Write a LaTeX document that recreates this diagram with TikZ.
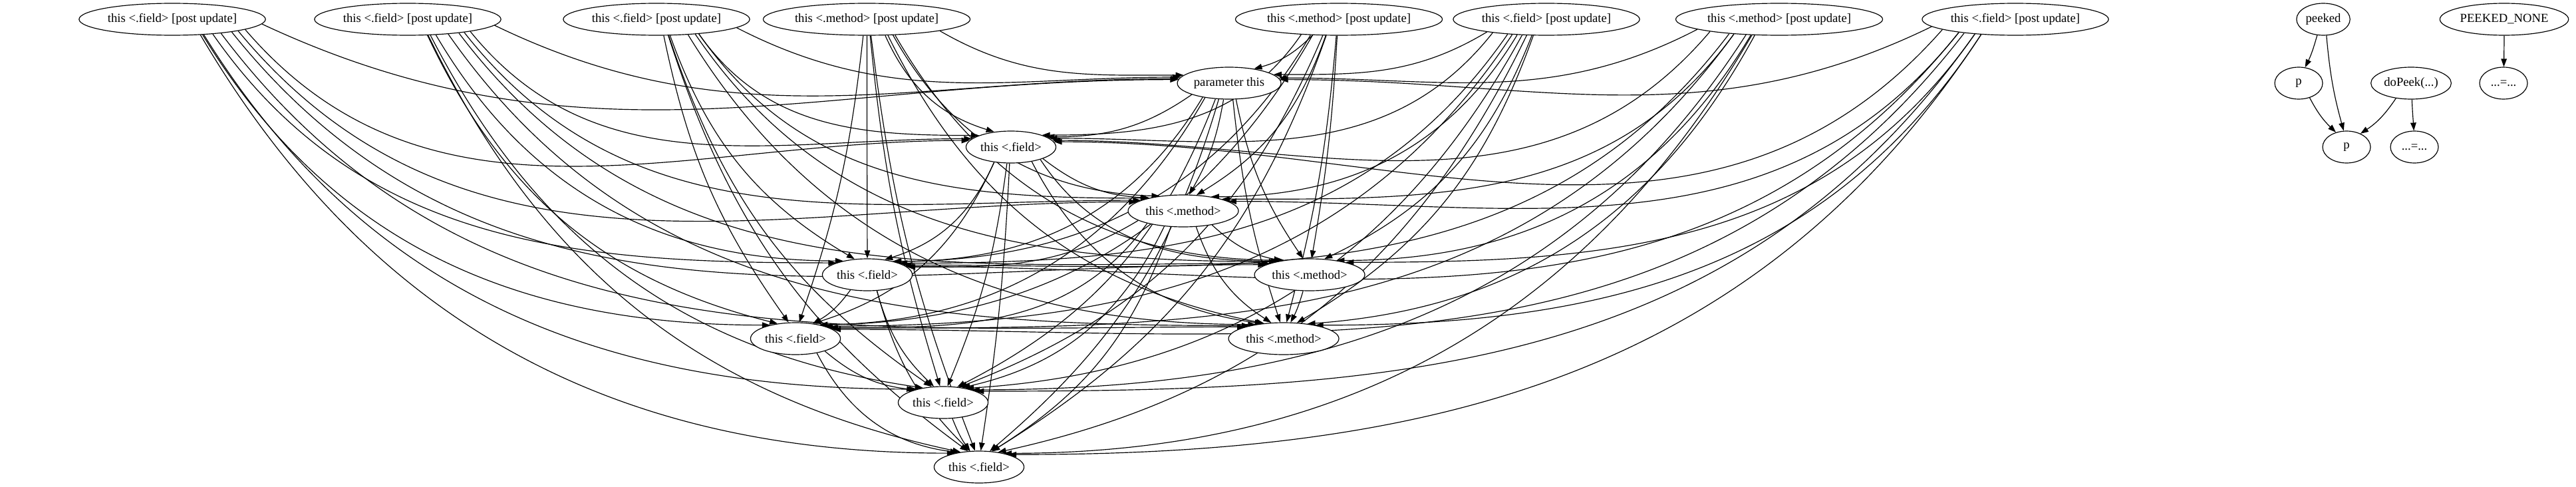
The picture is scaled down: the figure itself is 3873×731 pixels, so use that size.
\documentclass[tikz,border=0pt]{standalone}
\usepackage{fontspec}
\setmainfont{Liberation Serif}
\usetikzlibrary{arrows.meta,shapes.geometric,calc,backgrounds}

\begin{document}
\begin{tikzpicture}[x=0.1875pt,y=-0.1875pt,font=\fontsize{3.5}{4}\selectfont,
  nd/.style={draw,fill=white,ellipse,inner sep=0.375pt,minimum width=13.5pt,minimum height=9pt,line width=0.22pt},
  arr/.style={-{Triangle[length=2.25pt,width=1.6pt]},line width=0.22pt}]
  \useasboundingbox (0,0) rectangle (3873,731);
  % post update nodes, all on the top rank
  \node[nd] (t1) at (259,29) {this <.field> [post update]};
  \node[nd] (t2) at (613,29) {this <.field> [post update]};
  \node[nd] (t3) at (987,29) {this <.field> [post update]};
  \node[nd] (t4) at (1303,29) {this <.method> [post update]};
  \node[nd] (t5) at (2013,29) {this <.method> [post update]};
  \node[nd] (t6) at (2325,29) {this <.field> [post update]};
  \node[nd] (t7) at (2675,29) {this <.method> [post update]};
  \node[nd] (t8) at (3030,29) {this <.field> [post update]};
  % the uses of this, one rank each
  \node[nd] (par) at (1848,125) {parameter this};
  \node[nd] (f1) at (1520,221) {this <.field>};
  \node[nd] (m1) at (1779,317) {this <.method>};
  \node[nd] (f2) at (1304,413) {this <.field>};
  \node[nd] (m2) at (1969,413) {this <.method>};
  \node[nd] (f3) at (1196,509) {this <.field>};
  \node[nd] (m3) at (1930,509) {this <.method>};
  \node[nd] (f4) at (1418,605) {this <.field>};
  \node[nd] (f5) at (1472,702) {this <.field>};
  % the small peek cluster on the right
  \node[nd] (peeked) at (3493,29) {peeked};
  \node[nd] (pnone) at (3765,29) {PEEKED\_NONE};
  \node[nd] (p1) at (3456,125) {p};
  \node[nd] (dopeek) at (3625,125) {doPeek(...)};
  \node[nd] (eq1) at (3764,125) {...=...};
  \node[nd] (p2) at (3528,221) {p};
  \node[nd] (eq2) at (3630,221) {...=...};
  % edges go behind the nodes; they leave downwards and bend in
  \begin{pgfonlayer}{background}
  \foreach \s/\ts in {
      t1/{par,f1,m1,f2,m2,f3,m3,f4,f5}, t2/{par,f1,m1,f2,m2,f3,m3,f4,f5},
      t3/{par,f1,m1,f2,m2,f3,m3,f4,f5}, t4/{par,f1,m1,f2,m2,f3,m3,f4,f5},
      t5/{par,f1,m1,f2,m2,f3,m3,f4,f5}, t6/{par,f1,m1,f2,m2,f3,m3,f4,f5},
      t7/{par,f1,m1,f2,m2,f3,m3,f4,f5}, t8/{par,f1,m1,f2,m2,f3,m3,f4,f5},
      par/{f1,m1,f2,m2,f3,m3,f4,f5}, f1/{m1,f2,m2,f3,m3,f4,f5},
      m1/{f2,m2,f3,m3,f4,f5}, f2/{f3,f4,f5}, m2/{m3}, f3/{f4,f5}, f4/{f5},
      peeked/{p1,p2}, p1/{p2}, dopeek/{p2,eq2}, pnone/{eq1}}
    \foreach \t in \ts {
      \draw[arr] let \p1=($(\t)-(\s)$), \n1={atan2(\y1,\x1)},
        \n4={(-90-\n1)/2*min(1,-\y1/36)}, \n2={\n1+\n4},
        \n3={max(0,min(180,\n1+180-\n4))}, \n5={\n1+180}
        in (\s.\n1) to[out=\n2,in=\n3] (\t.\n5);
    }
  \end{pgfonlayer}
\end{tikzpicture}
\end{document}
